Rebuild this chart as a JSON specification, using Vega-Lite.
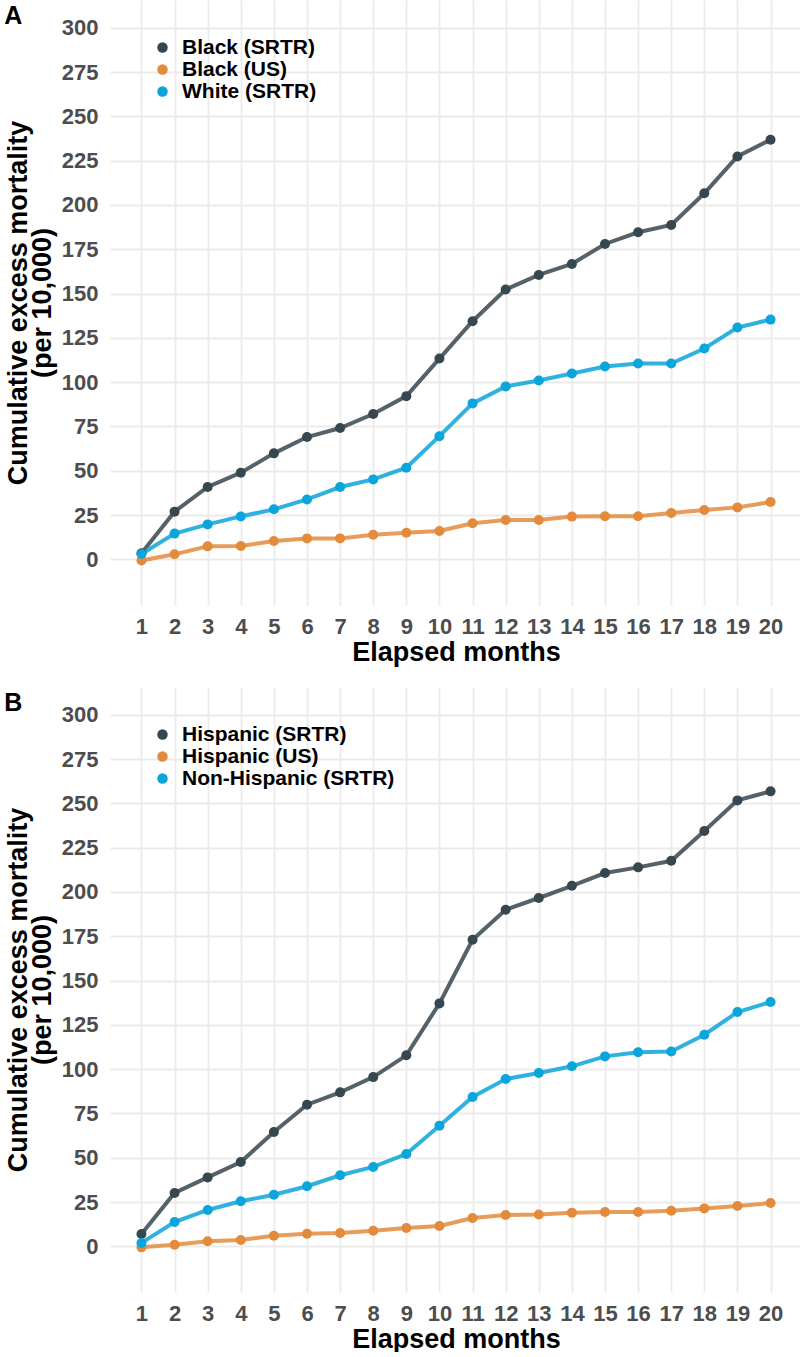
{
  "$schema": "https://vega.github.io/schema/vega-lite/v6.json",
  "padding": {"left": 4, "top": 0, "right": 0, "bottom": 0},
  "spacing": 22,
  "datasets": {
    "d": [
      {"panel": "A", "group": "Black (SRTR)", "month": 1, "value": 3.4},
      {"panel": "A", "group": "Black (SRTR)", "month": 2, "value": 26.9},
      {"panel": "A", "group": "Black (SRTR)", "month": 3, "value": 40.8},
      {"panel": "A", "group": "Black (SRTR)", "month": 4, "value": 48.9},
      {"panel": "A", "group": "Black (SRTR)", "month": 5, "value": 59.8},
      {"panel": "A", "group": "Black (SRTR)", "month": 6, "value": 69.0},
      {"panel": "A", "group": "Black (SRTR)", "month": 7, "value": 74.1},
      {"panel": "A", "group": "Black (SRTR)", "month": 8, "value": 82.0},
      {"panel": "A", "group": "Black (SRTR)", "month": 9, "value": 92.1},
      {"panel": "A", "group": "Black (SRTR)", "month": 10, "value": 113.3},
      {"panel": "A", "group": "Black (SRTR)", "month": 11, "value": 134.4},
      {"panel": "A", "group": "Black (SRTR)", "month": 12, "value": 152.3},
      {"panel": "A", "group": "Black (SRTR)", "month": 13, "value": 160.5},
      {"panel": "A", "group": "Black (SRTR)", "month": 14, "value": 166.7},
      {"panel": "A", "group": "Black (SRTR)", "month": 15, "value": 178.0},
      {"panel": "A", "group": "Black (SRTR)", "month": 16, "value": 184.6},
      {"panel": "A", "group": "Black (SRTR)", "month": 17, "value": 188.7},
      {"panel": "A", "group": "Black (SRTR)", "month": 18, "value": 206.6},
      {"panel": "A", "group": "Black (SRTR)", "month": 19, "value": 227.4},
      {"panel": "A", "group": "Black (SRTR)", "month": 20, "value": 236.8},
      {"panel": "A", "group": "Black (US)", "month": 1, "value": -0.7},
      {"panel": "A", "group": "Black (US)", "month": 2, "value": 2.8},
      {"panel": "A", "group": "Black (US)", "month": 3, "value": 7.3},
      {"panel": "A", "group": "Black (US)", "month": 4, "value": 7.5},
      {"panel": "A", "group": "Black (US)", "month": 5, "value": 10.3},
      {"panel": "A", "group": "Black (US)", "month": 6, "value": 11.8},
      {"panel": "A", "group": "Black (US)", "month": 7, "value": 11.8},
      {"panel": "A", "group": "Black (US)", "month": 8, "value": 13.9},
      {"panel": "A", "group": "Black (US)", "month": 9, "value": 15.0},
      {"panel": "A", "group": "Black (US)", "month": 10, "value": 16.0},
      {"panel": "A", "group": "Black (US)", "month": 11, "value": 20.3},
      {"panel": "A", "group": "Black (US)", "month": 12, "value": 22.2},
      {"panel": "A", "group": "Black (US)", "month": 13, "value": 22.2},
      {"panel": "A", "group": "Black (US)", "month": 14, "value": 24.1},
      {"panel": "A", "group": "Black (US)", "month": 15, "value": 24.3},
      {"panel": "A", "group": "Black (US)", "month": 16, "value": 24.3},
      {"panel": "A", "group": "Black (US)", "month": 17, "value": 26.1},
      {"panel": "A", "group": "Black (US)", "month": 18, "value": 27.8},
      {"panel": "A", "group": "Black (US)", "month": 19, "value": 29.3},
      {"panel": "A", "group": "Black (US)", "month": 20, "value": 32.3},
      {"panel": "A", "group": "White (SRTR)", "month": 1, "value": 3.0},
      {"panel": "A", "group": "White (SRTR)", "month": 2, "value": 14.5},
      {"panel": "A", "group": "White (SRTR)", "month": 3, "value": 19.7},
      {"panel": "A", "group": "White (SRTR)", "month": 4, "value": 24.2},
      {"panel": "A", "group": "White (SRTR)", "month": 5, "value": 28.2},
      {"panel": "A", "group": "White (SRTR)", "month": 6, "value": 33.8},
      {"panel": "A", "group": "White (SRTR)", "month": 7, "value": 40.8},
      {"panel": "A", "group": "White (SRTR)", "month": 8, "value": 45.1},
      {"panel": "A", "group": "White (SRTR)", "month": 9, "value": 51.7},
      {"panel": "A", "group": "White (SRTR)", "month": 10, "value": 69.5},
      {"panel": "A", "group": "White (SRTR)", "month": 11, "value": 88.0},
      {"panel": "A", "group": "White (SRTR)", "month": 12, "value": 97.6},
      {"panel": "A", "group": "White (SRTR)", "month": 13, "value": 100.9},
      {"panel": "A", "group": "White (SRTR)", "month": 14, "value": 104.9},
      {"panel": "A", "group": "White (SRTR)", "month": 15, "value": 108.8},
      {"panel": "A", "group": "White (SRTR)", "month": 16, "value": 110.5},
      {"panel": "A", "group": "White (SRTR)", "month": 17, "value": 110.5},
      {"panel": "A", "group": "White (SRTR)", "month": 18, "value": 119.0},
      {"panel": "A", "group": "White (SRTR)", "month": 19, "value": 130.8},
      {"panel": "A", "group": "White (SRTR)", "month": 20, "value": 135.3},
      {"panel": "B", "group": "Hispanic (SRTR)", "month": 1, "value": 6.9},
      {"panel": "B", "group": "Hispanic (SRTR)", "month": 2, "value": 30.1},
      {"panel": "B", "group": "Hispanic (SRTR)", "month": 3, "value": 38.9},
      {"panel": "B", "group": "Hispanic (SRTR)", "month": 4, "value": 47.6},
      {"panel": "B", "group": "Hispanic (SRTR)", "month": 5, "value": 64.5},
      {"panel": "B", "group": "Hispanic (SRTR)", "month": 6, "value": 79.9},
      {"panel": "B", "group": "Hispanic (SRTR)", "month": 7, "value": 86.9},
      {"panel": "B", "group": "Hispanic (SRTR)", "month": 8, "value": 95.5},
      {"panel": "B", "group": "Hispanic (SRTR)", "month": 9, "value": 107.8},
      {"panel": "B", "group": "Hispanic (SRTR)", "month": 10, "value": 137.1},
      {"panel": "B", "group": "Hispanic (SRTR)", "month": 11, "value": 173.0},
      {"panel": "B", "group": "Hispanic (SRTR)", "month": 12, "value": 190.0},
      {"panel": "B", "group": "Hispanic (SRTR)", "month": 13, "value": 196.6},
      {"panel": "B", "group": "Hispanic (SRTR)", "month": 14, "value": 203.5},
      {"panel": "B", "group": "Hispanic (SRTR)", "month": 15, "value": 210.7},
      {"panel": "B", "group": "Hispanic (SRTR)", "month": 16, "value": 213.9},
      {"panel": "B", "group": "Hispanic (SRTR)", "month": 17, "value": 217.6},
      {"panel": "B", "group": "Hispanic (SRTR)", "month": 18, "value": 234.4},
      {"panel": "B", "group": "Hispanic (SRTR)", "month": 19, "value": 251.7},
      {"panel": "B", "group": "Hispanic (SRTR)", "month": 20, "value": 256.8},
      {"panel": "B", "group": "Hispanic (US)", "month": 1, "value": -0.6},
      {"panel": "B", "group": "Hispanic (US)", "month": 2, "value": 0.9},
      {"panel": "B", "group": "Hispanic (US)", "month": 3, "value": 2.8},
      {"panel": "B", "group": "Hispanic (US)", "month": 4, "value": 3.6},
      {"panel": "B", "group": "Hispanic (US)", "month": 5, "value": 6.0},
      {"panel": "B", "group": "Hispanic (US)", "month": 6, "value": 7.1},
      {"panel": "B", "group": "Hispanic (US)", "month": 7, "value": 7.5},
      {"panel": "B", "group": "Hispanic (US)", "month": 8, "value": 8.8},
      {"panel": "B", "group": "Hispanic (US)", "month": 9, "value": 10.3},
      {"panel": "B", "group": "Hispanic (US)", "month": 10, "value": 11.5},
      {"panel": "B", "group": "Hispanic (US)", "month": 11, "value": 16.0},
      {"panel": "B", "group": "Hispanic (US)", "month": 12, "value": 17.7},
      {"panel": "B", "group": "Hispanic (US)", "month": 13, "value": 17.9},
      {"panel": "B", "group": "Hispanic (US)", "month": 14, "value": 19.0},
      {"panel": "B", "group": "Hispanic (US)", "month": 15, "value": 19.4},
      {"panel": "B", "group": "Hispanic (US)", "month": 16, "value": 19.4},
      {"panel": "B", "group": "Hispanic (US)", "month": 17, "value": 20.1},
      {"panel": "B", "group": "Hispanic (US)", "month": 18, "value": 21.4},
      {"panel": "B", "group": "Hispanic (US)", "month": 19, "value": 22.7},
      {"panel": "B", "group": "Hispanic (US)", "month": 20, "value": 24.4},
      {"panel": "B", "group": "Non-Hispanic (SRTR)", "month": 1, "value": 1.9},
      {"panel": "B", "group": "Non-Hispanic (SRTR)", "month": 2, "value": 13.7},
      {"panel": "B", "group": "Non-Hispanic (SRTR)", "month": 3, "value": 20.5},
      {"panel": "B", "group": "Non-Hispanic (SRTR)", "month": 4, "value": 25.4},
      {"panel": "B", "group": "Non-Hispanic (SRTR)", "month": 5, "value": 29.1},
      {"panel": "B", "group": "Non-Hispanic (SRTR)", "month": 6, "value": 33.9},
      {"panel": "B", "group": "Non-Hispanic (SRTR)", "month": 7, "value": 40.1},
      {"panel": "B", "group": "Non-Hispanic (SRTR)", "month": 8, "value": 44.8},
      {"panel": "B", "group": "Non-Hispanic (SRTR)", "month": 9, "value": 52.1},
      {"panel": "B", "group": "Non-Hispanic (SRTR)", "month": 10, "value": 68.1},
      {"panel": "B", "group": "Non-Hispanic (SRTR)", "month": 11, "value": 84.3},
      {"panel": "B", "group": "Non-Hispanic (SRTR)", "month": 12, "value": 94.4},
      {"panel": "B", "group": "Non-Hispanic (SRTR)", "month": 13, "value": 97.8},
      {"panel": "B", "group": "Non-Hispanic (SRTR)", "month": 14, "value": 101.6},
      {"panel": "B", "group": "Non-Hispanic (SRTR)", "month": 15, "value": 107.2},
      {"panel": "B", "group": "Non-Hispanic (SRTR)", "month": 16, "value": 109.5},
      {"panel": "B", "group": "Non-Hispanic (SRTR)", "month": 17, "value": 110.0},
      {"panel": "B", "group": "Non-Hispanic (SRTR)", "month": 18, "value": 119.4},
      {"panel": "B", "group": "Non-Hispanic (SRTR)", "month": 19, "value": 132.2},
      {"panel": "B", "group": "Non-Hispanic (SRTR)", "month": 20, "value": 137.9}
    ]
  },
  "vconcat": [
    {
      "width": 692,
      "height": 605,
      "title": {"text": "A", "anchor": "start", "frame": "bounds", "fontSize": 25, "fontWeight": "bold", "color": "#000000", "font": "Liberation Sans", "offset": -29},
      "data": {"name": "d"},
      "transform": [{"filter": "datum.panel === 'A'"}],
      "encoding": {
        "x": {"field": "month", "type": "quantitative", "scale": {"domain": [0.05, 20.95], "nice": false, "zero": false}, "axis": {"values": [1,2,3,4,5,6,7,8,9,10,11,12,13,14,15,16,17,18,19,20], "format": "d", "title": "Elapsed months", "labelOverlap": false}},
        "y": {"field": "value", "type": "quantitative", "scale": {"domain": [-25.8, 315.7], "nice": false, "zero": false}, "axis": {"values": [0,25,50,75,100,125,150,175,200,225,250,275,300], "title": ["Cumulative excess mortality", "(per 10,000)"], "labelOverlap": false}}
      },
      "layer": [
        {"mark": {"type": "line", "strokeWidth": 4, "opacity": 0.85},
         "encoding": {"color": {"field": "group", "type": "nominal", "scale": {"domain": ["Black (SRTR)", "Black (US)", "White (SRTR)"], "range": ["#37474F", "#E38B3C", "#0AA5DA"]}, "legend": {"title": null, "orient": "none", "legendX": 42, "legendY": 37, "symbolType": "circle", "symbolSize": 110, "symbolStrokeWidth": 0, "symbolOpacity": 1, "labelLimit": 0}}}},
        {"mark": {"type": "point", "filled": true, "size": 100, "opacity": 1},
         "encoding": {"color": {"field": "group", "type": "nominal", "scale": {"domain": ["Black (SRTR)", "Black (US)", "White (SRTR)"], "range": ["#37474F", "#E38B3C", "#0AA5DA"]}, "legend": {"title": null, "orient": "none", "legendX": 42, "legendY": 37, "symbolType": "circle", "symbolSize": 110, "symbolStrokeWidth": 0, "symbolOpacity": 1, "labelLimit": 0}}}}
      ]
    },
    {
      "width": 692,
      "height": 605,
      "title": {"text": "B", "anchor": "start", "frame": "bounds", "fontSize": 25, "fontWeight": "bold", "color": "#000000", "font": "Liberation Sans", "offset": -29},
      "data": {"name": "d"},
      "transform": [{"filter": "datum.panel === 'B'"}],
      "encoding": {
        "x": {"field": "month", "type": "quantitative", "scale": {"domain": [0.05, 20.95], "nice": false, "zero": false}, "axis": {"values": [1,2,3,4,5,6,7,8,9,10,11,12,13,14,15,16,17,18,19,20], "format": "d", "title": "Elapsed months", "labelOverlap": false}},
        "y": {"field": "value", "type": "quantitative", "scale": {"domain": [-25.8, 315.7], "nice": false, "zero": false}, "axis": {"values": [0,25,50,75,100,125,150,175,200,225,250,275,300], "title": ["Cumulative excess mortality", "(per 10,000)"], "labelOverlap": false}}
      },
      "layer": [
        {"mark": {"type": "line", "strokeWidth": 4, "opacity": 0.85},
         "encoding": {"color": {"field": "group", "type": "nominal", "scale": {"domain": ["Hispanic (SRTR)", "Hispanic (US)", "Non-Hispanic (SRTR)"], "range": ["#37474F", "#E38B3C", "#0AA5DA"]}, "legend": {"title": null, "orient": "none", "legendX": 42, "legendY": 37, "symbolType": "circle", "symbolSize": 110, "symbolStrokeWidth": 0, "symbolOpacity": 1, "labelLimit": 0}}}},
        {"mark": {"type": "point", "filled": true, "size": 100, "opacity": 1},
         "encoding": {"color": {"field": "group", "type": "nominal", "scale": {"domain": ["Hispanic (SRTR)", "Hispanic (US)", "Non-Hispanic (SRTR)"], "range": ["#37474F", "#E38B3C", "#0AA5DA"]}, "legend": {"title": null, "orient": "none", "legendX": 42, "legendY": 37, "symbolType": "circle", "symbolSize": 110, "symbolStrokeWidth": 0, "symbolOpacity": 1, "labelLimit": 0}}}}
      ]
    }
  ],
  "resolve": {"scale": {"color": "independent"}, "legend": {"color": "independent"}},
  "config": {
    "view": {"stroke": null},
    "axis": {"grid": true, "gridColor": "#EBEBEB", "gridWidth": 1.8, "domain": false, "ticks": false, "labelFont": "Liberation Sans", "labelFontSize": 22, "labelFontWeight": "bold", "labelColor": "#4D4D4D", "titleFont": "Liberation Sans", "titleFontSize": 27, "titleFontWeight": "bold", "titleColor": "#000000"},
    "axisX": {"labelPadding": 11, "titlePadding": 2},
    "axisY": {"labelPadding": 12, "titlePadding": 5, "titleLineHeight": 24},
    "legend": {"labelFont": "Liberation Sans", "labelFontSize": 21, "labelFontWeight": "bold", "labelColor": "#000000", "labelOffset": 9, "rowPadding": 0, "padding": 0}
  }
}
